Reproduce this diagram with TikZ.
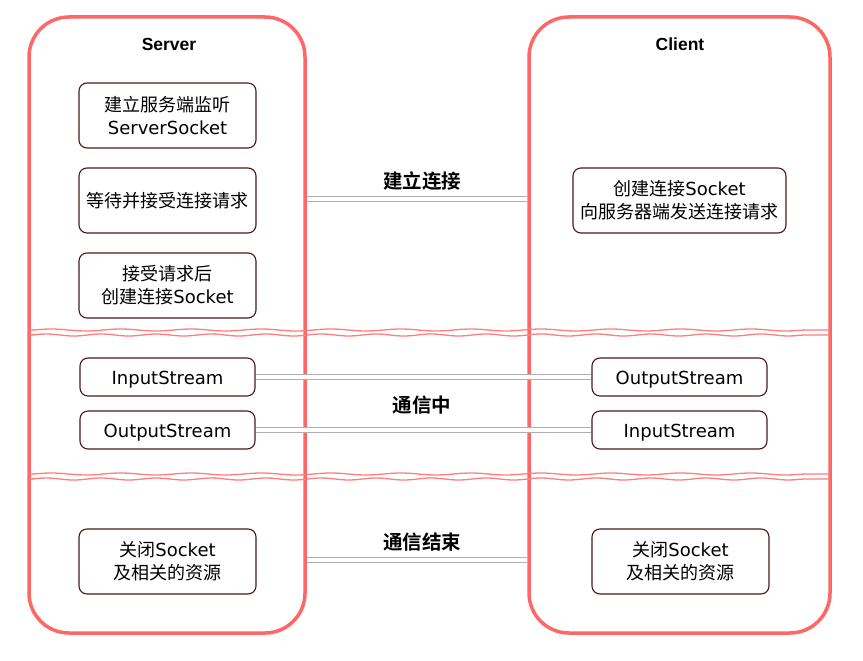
\documentclass[tikz,border=0pt]{standalone}
\usepackage{fontspec}
\setmainfont{Noto Sans CJK SC}[BoldFont={Noto Sans CJK SC Bold}]
\newfontfamily\headfont{Liberation Sans}
\newfontfamily\latinfont{DejaVu Sans}
\newcommand\lat[1]{{\latinfont #1}}
\usepackage{tikz}
\usetikzlibrary{decorations.pathmorphing}
\definecolor{lanered}{RGB}{255,102,102}
\definecolor{boxline}{RGB}{74,24,24}
\definecolor{linkgray}{RGB}{176,176,176}

\begin{document}
\begin{tikzpicture}[x=1pt,y=-1pt,
  lane/.style={draw=lanered,line width=3.5pt,rounded corners=40pt,inner sep=0pt},
  lanetitle/.style={font=\headfont\bfseries\fontsize{17.5}{21}\selectfont},
  stepbox/.style={draw=boxline,line width=1.1pt,rounded corners=8pt,align=center,
    minimum width=177pt,minimum height=65pt,inner sep=0pt,
    font=\fontsize{18}{23}\selectfont},
  streambox/.style={stepbox,minimum width=175pt,minimum height=38pt,
    text height=15pt,text depth=1pt},
  link/.style={draw=linkgray,line width=1.3pt,double=white,double distance=3.4pt},
  linklabel/.style={font=\bfseries\fontsize{19.5}{22}\selectfont},
  wave/.style={draw=lanered!85,line width=1.3pt,
    decorate,decoration={snake,amplitude=1pt,segment length=70pt}}]
\useasboundingbox (0,0) rectangle (863,661);

% swim lanes
\node[lane,minimum width=276pt,minimum height=616pt] (server) at (167,325) {};
\node[lane,minimum width=301pt,minimum height=616pt] (client) at (679.5,325) {};
\node[lanetitle] (servertitle) at (169,44) {Server};
\node[lanetitle] (clienttitle) at (680,44) {Client};

% phase separators
\draw[wave] (29,330) -- (830,330);
\draw[wave,decoration={segment length=55pt}] (29,335) -- (830,335);
\draw[wave] (29,474) -- (830,474);
\draw[wave,decoration={segment length=55pt}] (29,479) -- (830,479);

% server side
\node[stepbox] (listen) at (167.5,115.5) {建立服务端监听\\\lat{ServerSocket}};
\node[stepbox] (wait) at (167.5,200.5) {等待并接受连接请求};
\node[stepbox] (accept) at (167.5,285.5) {接受请求后\\创建连接\lat{Socket}};
\node[streambox] (sin) at (167.5,377) {\lat{InputStream}};
\node[streambox] (sout) at (167.5,430) {\lat{OutputStream}};
\node[stepbox] (sclose) at (167.5,561.5) {关闭\lat{Socket}\\及相关的资源};

% client side
\node[stepbox,minimum width=213pt] (connect) at (679.5,200.5) {创建连接\lat{Socket}\\向服务器端发送连接请求};
\node[streambox] (cout) at (679.5,377) {\lat{OutputStream}};
\node[streambox] (cin) at (679.5,430) {\lat{InputStream}};
\node[stepbox] (cclose) at (680.5,561.5) {关闭\lat{Socket}\\及相关的资源};

% links
\draw[link] (server.east |- 0,199) -- (client.west |- 0,199);
\draw[link] (sin) -- (cout);
\draw[link] (sout) -- (cin);
\draw[link] (server.east |- 0,560) -- (client.west |- 0,560);

\node[linklabel] (lconnect) at (422,181) {建立连接};
\node[linklabel] (ltalk) at (422,405) {通信中};
\node[linklabel] (lend) at (422,542) {通信结束};
\end{tikzpicture}
\end{document}
